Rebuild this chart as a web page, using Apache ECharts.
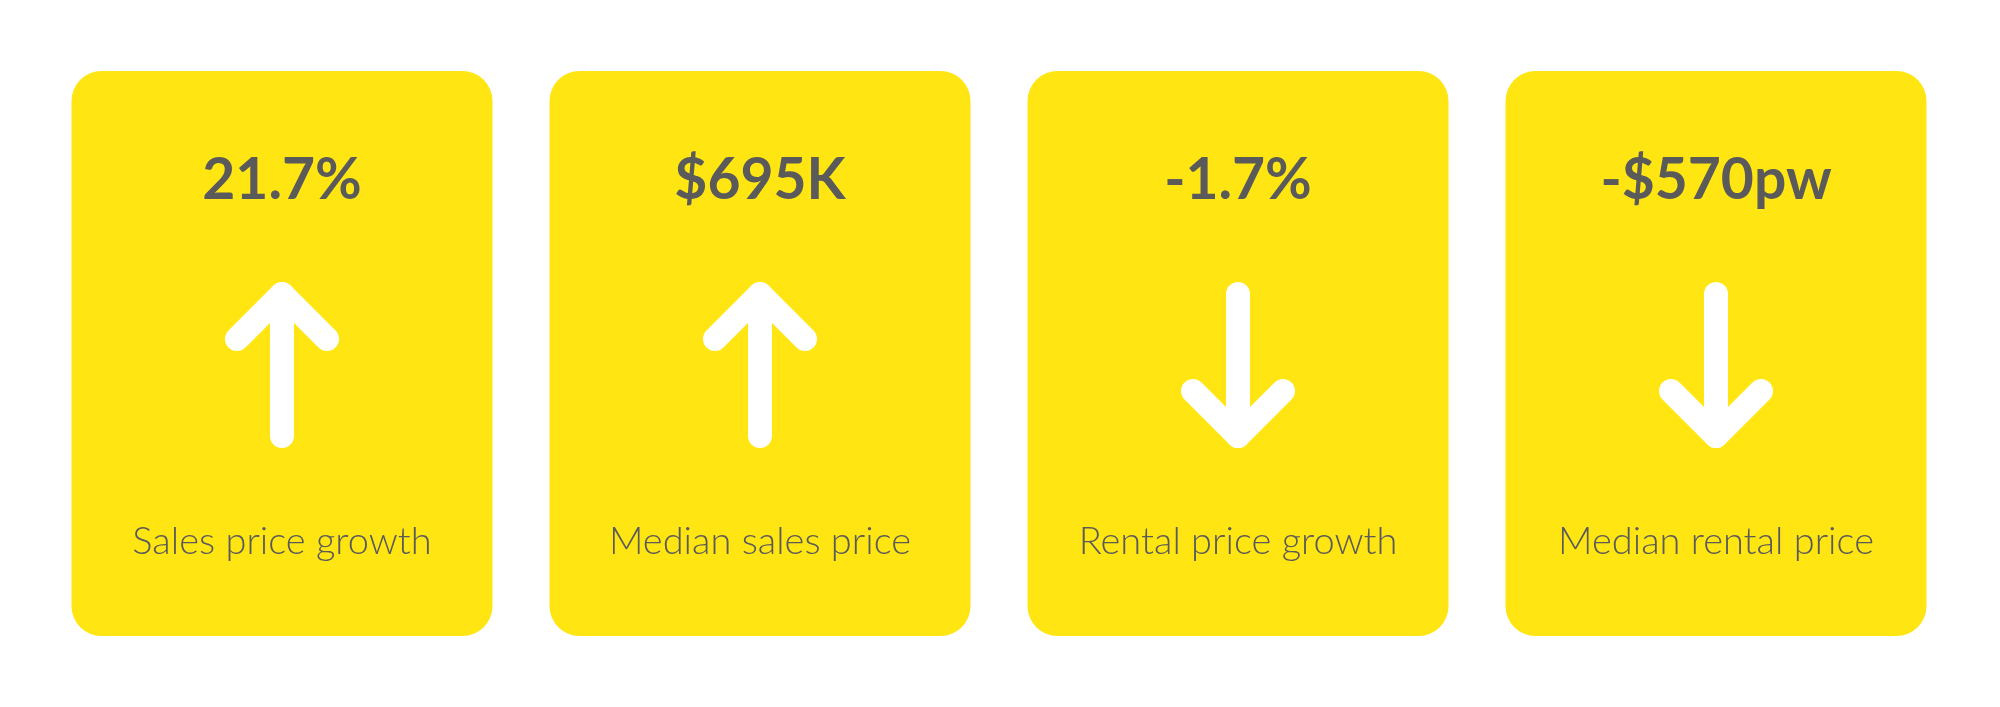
<!DOCTYPE html>
<html>
<head>
<meta charset="utf-8">
<script src="https://cdn.jsdelivr.net/npm/echarts@6/dist/echarts.min.js"></script>
<style>
html,body{margin:0;padding:0;background:#fff;}
#chart{width:2000px;height:707px;}
</style>
</head>
<body>
<div id="chart"></div>
<script>
const categories = ['Sales price growth', 'Median sales price', 'Rental price growth', 'Median rental price'];
const values = ['21.7%', '$695K', '-1.7%', '-$570pw'];
const directions = ['up', 'up', 'down', 'down'];

const YELLOW = '#FFE512';
const GRAY = '#5a5a5a';

const chart = echarts.init(document.getElementById('chart'), null, {renderer: 'canvas'});

function renderItem(params, api) {
  const i = api.value(0);
  const topPt = api.coord([i, 1]);
  const botPt = api.coord([i, 0]);
  const band = api.size([1, 0])[0];
  const w = band * 421 / 478;
  const cx = topPt[0];
  const top = topPt[1];
  const h = botPt[1] - top;
  const dir = directions[i];
  const s = 12; // half stroke
  const ay0 = top + 223, ay1 = top + 365; // shaft ends
  let shaft, head;
  if (dir === 'up') {
    shaft = [[cx, ay0], [cx, ay1]];
    head = [[cx - 45, ay0 + 45], [cx, ay0], [cx + 45, ay0 + 45]];
  } else {
    shaft = [[cx, ay0], [cx, ay1]];
    head = [[cx - 45, ay1 - 45], [cx, ay1], [cx + 45, ay1 - 45]];
  }
  const arrowStyle = {stroke: '#ffffff', lineWidth: 2 * s, lineCap: 'round', lineJoin: 'round', fill: null};
  return {
    type: 'group',
    children: [
      {type: 'rect', shape: {x: cx - w / 2, y: top, width: w, height: h, r: 30}, style: {fill: YELLOW}},
      {type: 'text', style: {text: values[i], x: cx, y: top + 110, align: 'center', verticalAlign: 'middle',
        font: 'bold 57px Lato', fill: GRAY}},
      {type: 'polyline', shape: {points: shaft}, style: arrowStyle},
      {type: 'polyline', shape: {points: head}, style: arrowStyle},
      {type: 'text', style: {text: categories[i], x: cx, y: top + 471, align: 'center', verticalAlign: 'middle',
        font: '300 38px Lato', fill: GRAY}}
    ]
  };
}

chart.setOption({
  animation: false,
  grid: {left: 43, width: 1912, top: 71, bottom: 71},
  xAxis: {type: 'category', data: categories, show: false},
  yAxis: {type: 'value', min: 0, max: 1, show: false},
  series: [{
    type: 'custom',
    renderItem: renderItem,
    data: categories.map((c, i) => [i, 1])
  }]
});
</script>
</body>
</html>
